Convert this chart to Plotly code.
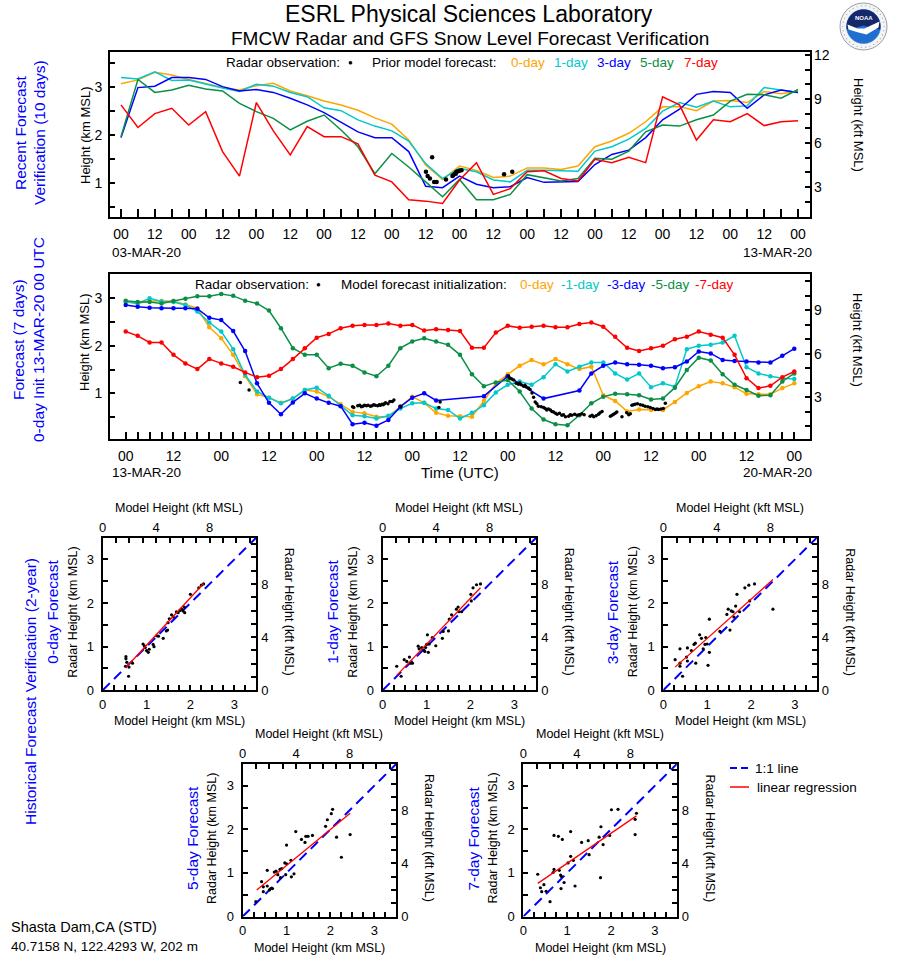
import math
import plotly.graph_objects as go

W, H = 898, 956
KFT = 3.28084


def PX(x):
    return x / W


def PY(y):
    return 1 - y / H


# ------------------------------------------------------------------ data
# Recent forecast verification (10 days), 6-hourly, hours since 03-MAR-20 00 UTC
top_hours = list(range(0, 241, 6))
top_0day = [3.06, 3.14, 3.30, 3.24, 3.15, 3.07, 2.98, 2.93, 3.02, 3.07,
            2.91, 2.81, 2.70, 2.62, 2.51, 2.35, 2.22, 1.89, 1.37, 1.07,
            1.35, 1.26, 1.11, 1.14, 1.31, 1.31, 1.28, 1.35, 1.75, 1.87,
            2.03, 2.27, 2.58, 2.58, 2.50, 2.70, 2.71, 2.67, 2.90, 2.85, 2.91]
top_1day = [3.19, 3.16, 3.31, 3.13, 3.14, 3.05, 2.97, 2.90, 3.05, 3.01,
            2.88, 2.79, 2.56, 2.50, 2.31, 2.18, 2.08, 1.87, 1.40, 1.09,
            1.30, 1.23, 1.06, 1.02, 1.26, 1.26, 1.25, 1.24, 1.66, 1.75,
            1.91, 2.13, 2.49, 2.67, 2.57, 2.70, 2.58, 2.60, 2.98, 2.93, 2.88]
top_3day = [1.94, 2.98, 3.01, 3.19, 3.19, 3.15, 3.00, 2.91, 2.94, 2.88,
            2.76, 2.62, 2.46, 2.26, 2.06, 1.94, 1.94, 1.65, 0.93, 0.90,
            1.14, 0.97, 0.90, 0.92, 1.11, 1.01, 1.02, 1.03, 1.38, 1.59,
            1.68, 1.94, 2.31, 2.53, 2.84, 2.90, 2.88, 2.55, 2.83, 2.93, 2.88]
top_5day = [1.96, 3.15, 2.88, 2.93, 3.03, 2.95, 2.91, 2.65, 2.48, 2.34,
            2.10, 2.28, 2.41, 2.10, 1.75, 1.19, 1.61, 1.33, 1.02, 0.71,
            1.07, 0.65, 0.65, 0.76, 1.17, 1.10, 1.04, 1.09, 1.51, 1.49,
            1.66, 2.06, 2.20, 2.18, 2.31, 2.41, 2.70, 2.84, 2.83, 2.76, 2.94]
top_7day = [2.62, 2.15, 2.44, 2.55, 2.20, 2.48, 1.65, 1.14, 2.67, 2.08,
            1.58, 2.17, 1.96, 1.96, 1.81, 1.16, 1.02, 0.65, 0.62, 0.57,
            1.06, 1.42, 0.76, 0.88, 1.23, 1.25, 1.09, 1.04, 1.49, 1.42,
            1.53, 1.42, 2.79, 2.62, 1.89, 2.31, 2.27, 2.44, 2.19, 2.27, 2.29]
obs_top_hours = [108.1, 108.7, 109.5, 110.3, 111.0, 111.9, 115.2, 117.5, 117.8,
                 118.3, 118.7, 118.9, 119.5, 119.9, 120.7, 135.8, 138.7]
obs_top_km = [1.23, 1.14, 1.09, 1.53, 1.02, 1.02, 1.07, 1.14, 1.16,
              1.19, 1.19, 1.23, 1.24, 1.25, 1.26, 1.18, 1.23]
top_ticktext = ["00", "12"] * 10 + ["00"]

# 7-day forecast initialised 13-MAR-20 00 UTC, 3-hourly
mid_hours = list(range(0, 169, 3))
mid_0day = [2.92, 2.89, 2.94, 2.94, 2.94, 2.87, 2.79, 2.39, 2.16, 1.81,
            1.36, 0.98, 0.91, 0.80, 0.89, 1.07, 1.04, 0.93, 0.77, 0.61,
            0.58, 0.51, 0.51, 0.73, 0.93, 0.80, 0.59, 0.53, 0.52,
            0.51, 0.84, 1.21, 1.40, 1.58, 1.70, 1.61, 1.72, 1.61, 1.51,
            1.56, 0.96, 0.84, 0.62, 0.66, 0.65, 0.65, 0.82, 1.01, 1.15,
            1.25, 1.21, 1.13, 0.99, 0.98, 0.98, 1.11, 1.21]
mid_1day = [2.93, 2.89, 3.00, 2.93, 2.92, 2.86, 2.72, 2.49, 2.30, 1.93,
            1.39, 1.04, 0.91, 0.79, 0.89, 1.07, 1.12, 0.95, 0.74, 0.54,
            0.52, 0.47, 0.53, 0.68, 0.79, 0.80, 0.68, 0.65, 0.47,
            0.59, 0.75, 1.02, 1.18, 1.25, 1.18, 1.34, 1.61, 1.46, 1.56,
            1.65, 1.65, 1.42, 1.29, 1.42, 1.13, 1.21, 1.14, 1.93, 2.00,
            2.02, 2.07, 2.21, 1.55, 1.42, 1.36, 1.32, 1.30]
mid_3day = [2.86, 2.82, 2.80, 2.79, 2.79, 2.79, 2.78, 2.59, 2.54, 2.31,
            1.89, 1.21, 0.80, 0.56, 0.81, 1.00, 0.89, 0.80, 0.73, 0.35,
            0.38, 0.32, 0.44, 0.72, 0.91, 1.00, 0.85, None, None,
            None, 0.94, None, 1.36, None, None, 0.89, None, None, 1.06,
            1.42, 1.58, 1.65, 1.61, 1.60, 1.58, 1.53, 1.55, 1.67, 1.88,
            1.84, 1.70, 1.68, 1.67, 1.65, 1.65, 1.79, 1.94]
mid_5day = [2.95, 2.92, 2.92, 2.89, 2.94, 2.99, 3.04, 3.04, 3.09, 3.05,
            2.95, 2.89, 2.74, 2.37, 1.95, 1.81, 1.81, 1.53, 1.62, 1.58,
            1.44, 1.36, 1.58, 1.95, 2.09, 2.16, 2.09, 2.02, 1.81,
            1.40, 1.15, 1.23, 1.28, 1.04, 0.68, 0.45, 0.35, 0.33, 0.54,
            0.79, 0.93, 0.99, 0.98, 0.96, 0.87, 0.89, 1.12, 1.49, 1.75,
            1.69, 1.40, 1.18, 1.07, 0.95, 0.96, 1.25, 1.42]
mid_7day = [2.30, 2.21, 2.07, 2.07, 1.81, 1.63, 1.51, 1.72, 1.63, 1.56,
            1.44, 1.34, 1.37, 1.51, 1.72, 1.95, 2.17, 2.25, 2.37, 2.42,
            2.44, 2.44, 2.47, 2.42, 2.44, 2.32, 2.35, 2.33, 2.31,
            1.96, 1.96, 2.28, 2.42, 2.38, 2.40, 2.42, 2.39, 2.39, 2.46,
            2.49, 2.40, 2.19, 1.96, 1.89, 1.95, 2.00, 2.14, 2.19, 2.30,
            2.23, 2.17, 1.81, 1.32, 1.11, 1.16, 1.34, 1.46]
obs_mid_hours = [28.8, 31.0, 57.0, 57.3, 58.3, 58.8, 59.2, 59.6, 60.0, 60.5, 60.9, 61.5, 61.9,
                 62.3, 62.7, 63.3, 63.7, 64.0, 64.4, 64.7, 65.0, 65.3, 65.9, 66.4, 67.0, 67.4,
                 69.1, 78.7, 79.0,
                 96.2, 96.6, 97.0, 97.5, 98.1, 98.7, 99.0, 99.4, 100.0, 100.3, 100.6, 101.2, 101.6,
                 102.1, 102.5, 102.9, 103.3, 103.7, 104.4, 105.0, 105.4, 105.8, 106.2, 106.7, 107.1,
                 107.5, 108.0, 108.4, 109.0, 109.6, 110.0, 110.5, 111.3, 111.7, 112.1, 112.8, 113.4,
                 114.0, 114.6, 115.2, 116.7, 117.2, 117.6, 118.2, 118.8, 119.2, 119.7, 121.8, 122.2,
                 122.6, 123.0, 123.4, 124.7, 125.9, 126.4, 126.8, 127.2, 127.6, 128.0, 128.6, 129.3,
                 129.9, 130.5, 131.2, 131.8, 132.5, 133.1, 133.5, 133.9, 134.5, 135.1, 135.6]
obs_mid_km = [1.23, 1.07, 0.72, 0.70, 0.74, 0.75, 0.72, 0.73, 0.75, 0.74, 0.75, 0.73, 0.74,
              0.76, 0.75, 0.74, 0.76, 0.75, 0.77, 0.76, 0.78, 0.80, 0.78, 0.83, 0.83, 0.86,
              0.72, 0.70, 0.82,
              1.36, 1.32, 1.30, 1.28, 1.21, 1.19, 1.22, 1.18, 1.15, 1.17, 1.14, 1.11, 1.08,
              1.01, 0.92, 0.82, 0.78, 0.73, 0.72, 0.70, 0.68, 0.65, 0.67, 0.65, 0.62,
              0.61, 0.58, 0.56, 0.58, 0.54, 0.55, 0.51, 0.52, 0.55, 0.54, 0.56, 0.54,
              0.55, 0.57, 0.55, 0.52, 0.54, 0.51, 0.53, 0.56, 0.59, 0.62, 0.52, 0.54,
              0.56, 0.58, 0.61, 0.51, 0.59, 0.55, 0.57, 0.75, 0.76, 0.77, 0.78, 0.76,
              0.75, 0.73, 0.72, 0.70, 0.68, 0.66, 0.67, 0.66, 0.67, 0.68, 0.79]
mid_ticktext = ["00", "12"] * 7 + ["00"]

# Historical verification scatter (model km, radar km) + regression end points
p0_model = [0.53, 0.53, 0.55, 0.52, 0.60, 0.68, 0.59, 0.95, 0.92, 0.97, 1.00, 1.04, 1.06, 1.15, 1.17,
            1.23, 1.27, 1.38, 1.45, 1.48, 1.49, 1.52, 1.57, 1.61, 1.68, 1.72, 1.76, 1.80, 1.83, 1.86,
            1.87, 2.00, 2.19, 2.25, 2.30]
p0_radar = [0.77, 0.72, 0.64, 0.55, 0.53, 0.62, 0.32, 1.02, 1.06, 0.98, 0.91, 0.87, 0.94, 1.05, 1.00,
            1.25, 1.24, 1.19, 1.36, 1.38, 1.55, 1.64, 1.73, 1.68, 1.80, 1.78, 1.83, 1.86, 1.82, 1.91,
            1.78, 2.20, 2.35, 2.41, 2.44]
reg0_x, reg0_y = [0.52, 2.30], [0.51, 2.45]

p1_model = [0.32, 0.42, 0.49, 0.55, 0.61, 0.64, 0.68, 0.81, 0.83, 0.89, 0.94, 0.96, 0.98, 1.00, 1.02,
            1.04, 1.06, 1.13, 1.21, 1.36, 1.38, 1.50, 1.52, 1.57, 1.68, 1.72, 1.74, 1.80, 2.01, 2.02,
            2.06, 2.14, 2.23]
p1_radar = [0.55, 0.32, 0.70, 0.66, 0.76, 0.62, 0.62, 1.01, 0.95, 0.98, 0.92, 0.89, 0.98, 1.05, 1.27,
            0.87, 1.06, 1.21, 1.02, 1.19, 1.35, 1.36, 1.63, 1.73, 1.86, 1.91, 1.80, 1.80, 2.20, 2.05,
            2.35, 2.42, 2.44]
reg1_x, reg1_y = [0.32, 2.23], [0.34, 2.35]

p2_model = [0.27, 0.38, 0.38, 0.38, 0.44, 0.53, 0.55, 0.55, 0.64, 0.70, 0.73, 0.74, 0.83, 0.87, 0.91,
            0.95, 0.97, 1.00, 1.02, 1.05, 1.05, 1.29, 1.45, 1.48, 1.52, 1.55, 1.59, 1.61, 1.65, 1.68,
            1.74, 1.86, 1.95, 1.97, 2.08, 2.50]
p2_radar = [0.70, 0.95, 0.55, 0.62, 0.32, 0.76, 0.97, 0.67, 0.91, 1.05, 1.08, 0.62, 1.27, 1.19, 0.95,
            1.05, 1.21, 1.06, 0.57, 0.87, 1.63, 1.35, 1.74, 1.86, 1.38, 1.82, 1.80, 1.68, 1.93, 2.20,
            1.80, 2.35, 2.41, 2.05, 2.44, 1.86]
reg2_x, reg2_y = [0.27, 2.50], [0.53, 2.54]

p3_model = [0.30, 0.43, 0.47, 0.47, 0.56, 0.56, 0.61, 0.64, 0.68, 0.72, 0.76, 0.80, 0.85, 0.86, 0.89,
            0.96, 0.98, 1.00, 1.00, 1.10, 1.11, 1.17, 1.21, 1.34, 1.42, 1.44, 1.49, 1.59, 1.89, 1.93,
            2.02, 2.05, 2.14, 2.25, 2.45]
p3_radar = [0.34, 0.80, 0.68, 0.57, 1.06, 0.70, 0.61, 0.64, 0.64, 1.02, 1.04, 0.96, 1.08, 0.89, 1.10,
            1.23, 0.96, 1.21, 1.64, 1.29, 0.91, 0.98, 1.95, 1.77, 1.70, 1.84, 1.84, 1.86, 2.07, 2.22,
            2.36, 2.46, 1.82, 1.36, 1.88]
reg3_x, reg3_y = [0.32, 2.45], [0.61, 2.37]

p4_model = [0.33, 0.39, 0.42, 0.47, 0.52, 0.61, 0.68, 0.70, 0.70, 0.80, 0.82, 0.85, 0.86, 0.87, 0.89,
            0.93, 1.02, 1.08, 1.08, 1.14, 1.18, 1.33, 1.48, 1.50, 1.73, 1.77, 1.76, 1.82, 1.97, 2.01,
            2.16, 2.55, 2.58, 2.55]
p4_radar = [0.97, 0.66, 0.57, 0.73, 0.58, 0.34, 1.01, 1.08, 1.86, 1.84, 1.06, 0.95, 0.64, 0.92, 1.77,
            0.78, 1.23, 1.95, 1.38, 1.29, 0.70, 1.70, 1.74, 1.42, 1.82, 2.06, 0.89, 1.65, 1.86, 2.45,
            2.46, 2.23, 2.37, 1.88]
reg4_x, reg4_y = [0.33, 2.58], [0.76, 2.31]

scatter_titles = ["0-day Forecast", "1-day Forecast", "3-day Forecast", "5-day Forecast", "7-day Forecast"]
one_to_one = [0, 3.5]

# ------------------------------------------------------------------ style
ORANGE = "#ffa500"
CYAN = "#00c8cc"
BLUE = "#0000ff"
GREEN = "#0b8f45"
RED = "#ff0000"
FONT = "Liberation Sans, Arial, Helvetica, sans-serif"

fig = go.Figure()
layout_axes = {}


def axis(**kw):
    d = dict(showgrid=False, zeroline=False, ticks="inside", tickcolor="black", tickwidth=1.5,
             ticklen=5, tickfont=dict(size=14, color="black", family=FONT), showline=False,
             automargin=False, ticklabelstandoff=3)
    d.update(kw)
    return d


def minor(vals, ln):
    return dict(tickvals=vals, ticks="inside", ticklen=ln, tickwidth=1.5, tickcolor="black", showgrid=False)


FRAME = dict(showline=True, mirror=True, linecolor="black", linewidth=2)
SFONT = dict(size=13, color="black", family=FONT)

# ---- top time series
TX0, TX1 = 110, 810
ty0, ty1 = 52, 217
layout_axes["xaxis"] = axis(domain=[PX(TX0), PX(TX1)], anchor="y", range=[-3.9, 244.25],
                            tickmode="array", tickvals=list(range(0, 241, 12)), ticktext=top_ticktext,
                            ticklen=8, minor=minor(list(range(6, 241, 12)), 8), **FRAME)
layout_axes["yaxis"] = axis(domain=[PY(ty1), PY(ty0)], anchor="x", range=[0.29, 3.72],
                            tickmode="array", tickvals=[1, 2, 3], minor=minor([0.5, 1.5, 2.5, 3.5], 5), **FRAME)
layout_axes["yaxis2"] = axis(overlaying="y", anchor="x", side="right", range=[0.29 * KFT, 3.72 * KFT],
                             tickmode="array", tickvals=[3, 6, 9, 12], minor=minor([1, 2, 4, 5, 7, 8, 10, 11], 5))

for vals, col in [(top_0day, ORANGE), (top_1day, CYAN), (top_3day, BLUE), (top_5day, GREEN), (top_7day, RED)]:
    fig.add_trace(go.Scatter(x=top_hours, y=vals, mode="lines", line=dict(color=col, width=1.5),
                             xaxis="x", yaxis="y", hoverinfo="skip"))
fig.add_trace(go.Scatter(x=obs_top_hours, y=obs_top_km, mode="markers",
                         marker=dict(color="black", size=4.5), xaxis="x", yaxis="y", hoverinfo="skip"))
fig.add_trace(go.Scatter(x=[None], y=[None], xaxis="x", yaxis="y2", hoverinfo="skip"))

# ---- middle time series
my0, my1 = 274, 439
layout_axes["xaxis2"] = axis(domain=[PX(TX0), PX(TX1)], anchor="y3", range=[-3.95, 171.95],
                             tickmode="array", tickvals=list(range(0, 169, 12)), ticktext=mid_ticktext,
                             ticklen=7, minor=minor([h for h in range(3, 169, 3) if h % 12], 7), **FRAME)
layout_axes["yaxis3"] = axis(domain=[PY(my1), PY(my0)], anchor="x2", range=[0.04, 3.51],
                             tickmode="array", tickvals=[1, 2, 3], minor=minor([0.5, 1.5, 2.5], 5), **FRAME)
layout_axes["yaxis4"] = axis(overlaying="y3", anchor="x2", side="right", range=[0.04 * KFT, 3.51 * KFT],
                             tickmode="array", tickvals=[3, 6, 9], minor=minor([1, 2, 4, 5, 7, 8, 10, 11], 5))

for vals, col in [(mid_0day, ORANGE), (mid_1day, CYAN), (mid_3day, BLUE), (mid_5day, GREEN), (mid_7day, RED)]:
    fig.add_trace(go.Scatter(x=mid_hours, y=vals, mode="lines+markers", connectgaps=True,
                             line=dict(color=col, width=1.5), marker=dict(color=col, size=4.5),
                             xaxis="x2", yaxis="y3", hoverinfo="skip"))
fig.add_trace(go.Scatter(x=obs_mid_hours, y=obs_mid_km, mode="markers",
                         marker=dict(color="black", size=3.5), xaxis="x2", yaxis="y3", hoverinfo="skip"))
fig.add_trace(go.Scatter(x=[None], y=[None], xaxis="x2", yaxis="y4", hoverinfo="skip"))

# ---- scatter panels
frames = [(102.7, 256.2, 537.7, 690.2), (382.7, 536.2, 537.7, 690.2), (663.3, 816.8, 537.7, 690.2),
          (242.7, 396.2, 764.0, 916.5), (523.3, 676.8, 764.0, 916.5)]
panels = [(p0_model, p0_radar, reg0_x, reg0_y), (p1_model, p1_radar, reg1_x, reg1_y),
          (p2_model, p2_radar, reg2_x, reg2_y), (p3_model, p3_radar, reg3_x, reg3_y),
          (p4_model, p4_radar, reg4_x, reg4_y)]
kft_minor = [1, 2, 3, 5, 6, 7, 9, 10, 11]
km_minor_x = [0.25, 0.5, 0.75, 1.25, 1.5, 1.75, 2.25, 2.5, 2.75, 3.25]
annotations = []


def ann(text, x, y, size, color="black", angle=0, xanchor="center", yanchor="middle"):
    annotations.append(dict(text=text, x=PX(x), y=PY(y), xref="paper", yref="paper", showarrow=False,
                            font=dict(size=size, color=color, family=FONT), textangle=angle,
                            xanchor=xanchor, yanchor=yanchor))


for k, ((fx0, fx1, fy0, fy1), (mx, ry, rgx, rgy)) in enumerate(zip(frames, panels)):
    nx, ny = 3 + 2 * k, 5 + 2 * k
    layout_axes[f"xaxis{nx}"] = axis(domain=[PX(fx0), PX(fx1)], anchor=f"y{ny}", range=[0, 3.5],
                                     tickmode="array", tickvals=[0, 1, 2, 3], minor=minor(km_minor_x, 5),
                                     tickfont=SFONT, ticklabelstandoff=1, **FRAME)
    layout_axes[f"xaxis{nx + 1}"] = axis(overlaying=f"x{nx}", anchor=f"y{ny}", side="top", range=[0, 3.5 * KFT],
                                         tickmode="array", tickvals=[0, 4, 8], minor=minor(kft_minor, 5),
                                         tickfont=SFONT, ticklabelstandoff=2)
    layout_axes[f"yaxis{ny}"] = axis(domain=[PY(fy1), PY(fy0)], anchor=f"x{nx}", range=[0, 3.5],
                                     tickmode="array", tickvals=[0, 1, 2, 3], minor=minor([0.5, 1.5, 2.5], 5),
                                     tickfont=SFONT, ticklabelstandoff=4, **FRAME)
    layout_axes[f"yaxis{ny + 1}"] = axis(overlaying=f"y{ny}", anchor=f"x{nx}", side="right", range=[0, 3.5 * KFT],
                                         tickmode="array", tickvals=[0, 4, 8], minor=minor(kft_minor, 5),
                                         tickfont=SFONT, ticklabelstandoff=4)
    fig.add_trace(go.Scatter(x=one_to_one, y=one_to_one, mode="lines",
                             line=dict(color=BLUE, width=2, dash="10px,6px"),
                             xaxis=f"x{nx}", yaxis=f"y{ny}", hoverinfo="skip"))
    fig.add_trace(go.Scatter(x=mx, y=ry, mode="markers", marker=dict(color="black", size=3.2),
                             xaxis=f"x{nx}", yaxis=f"y{ny}", hoverinfo="skip"))
    fig.add_trace(go.Scatter(x=rgx, y=rgy, mode="lines", line=dict(color=RED, width=1.3),
                             xaxis=f"x{nx}", yaxis=f"y{ny}", hoverinfo="skip"))
    fig.add_trace(go.Scatter(x=[None], y=[None], xaxis=f"x{nx + 1}", yaxis=f"y{ny + 1}", hoverinfo="skip"))
    cxm = (fx0 + fx1) / 2
    cym = (fy0 + fy1) / 2 - 2
    ann("Model Height (kft MSL)", cxm, fy0 - 30, 12.5)
    ann("Model Height (km MSL)", cxm, fy1 + 31, 12.5)
    ann("Radar Height (km MSL)", fx0 - 30, cym, 12.5, angle=-90)
    ann("Radar Height (kft MSL)", fx1 + 33, cym, 12.5, angle=90)
    ann(scatter_titles[k], fx0 - 50, cym, 15.5, color=BLUE, angle=-90)

# ---- texts
ann("ESRL Physical Sciences Laboratory", 469, 14, 23)
ann("FMCW Radar and GFS Snow Level Forecast Verification", 470, 38, 19)

ann("Recent Forecast", 21, 133, 15.5, color=BLUE, angle=-90)
ann("Verification (10 days)", 40, 133, 15.5, color=BLUE, angle=-90)
ann("Height (km MSL)", 85, 135, 13, angle=-90)
ann("Height (kft MSL)", 858, 125, 13, angle=90)
ann("03-MAR-20", 110, 252, 13.5, xanchor="left")
ann("13-MAR-20", 814, 252, 13.5, xanchor="right")

ann("Radar observation:", 224, 63, 13.5, xanchor="left")
ann("●", 350, 63, 8)
ann("Prior model forecast:", 370, 63, 13.5, xanchor="left")
for txt, xx, col in [("0-day", 509, ORANGE), ("1-day", 552, CYAN), ("3-day", 595, BLUE),
                     ("5-day", 638, GREEN), ("7-day", 682, RED)]:
    ann(txt, xx, 63, 13.5, color=col, xanchor="left")

ann("Forecast (7 days)", 18, 340, 15.5, color=BLUE, angle=-90)
ann("0-day Init 13-MAR-20 00 UTC", 38, 340, 15.5, color=BLUE, angle=-90)
ann("Height (km MSL)", 85, 342, 13, angle=-90)
ann("Height (kft MSL)", 858, 340, 13, angle=90)
ann("13-MAR-20", 110, 472, 13.5, xanchor="left")
ann("20-MAR-20", 814, 472, 13.5, xanchor="right")
ann("Time (UTC)", 460, 472, 15)

ann("Radar observation:", 193, 285, 13.5, xanchor="left")
ann("●", 318, 285, 8)
ann("Model forecast initialization:", 339, 285, 13.5, xanchor="left")
for txt, xx, col in [("0-day", 518, ORANGE), ("-1-day", 559, CYAN), ("-3-day", 605, BLUE),
                     ("-5-day", 649, GREEN), ("-7-day", 693, RED)]:
    ann(txt, xx, 285, 13.5, color=col, xanchor="left")

ann("Historical Forecast Verification (2-year)", 30, 692, 15.5, color=BLUE, angle=-90)

ann("1:1 line", 753, 768, 13.5, xanchor="left")
ann("linear regression", 755, 787, 13.5, xanchor="left")

ann("Shasta Dam,CA (STD)", 9, 927, 14.5, xanchor="left")
ann("40.7158 N, 122.4293 W, 202 m", 9, 946, 13.5, xanchor="left")

# ---- shapes: legend samples and NOAA emblem
shapes = [
    dict(type="line", xref="paper", yref="paper", x0=PX(730), x1=PX(749), y0=PY(768), y1=PY(768),
         line=dict(color=BLUE, width=2, dash="7px,4px")),
    dict(type="line", xref="paper", yref="paper", x0=PX(730), x1=PX(749), y0=PY(787), y1=PY(787),
         line=dict(color=RED, width=1.5)),
]


def poly(pts):
    return "M " + " L ".join(f"{PX(x):.5f},{PY(y):.5f}" for x, y in pts) + " Z"


cx, cy, R, r = 863.5, 26.5, 23.5, 17.0
shapes.append(dict(type="circle", xref="paper", yref="paper", x0=PX(cx - R), x1=PX(cx + R),
                   y0=PY(cy + R), y1=PY(cy - R), fillcolor="#f4f4f6", line=dict(color="#7f8590", width=0.8)))
shapes.append(dict(type="circle", xref="paper", yref="paper", x0=PX(cx - r), x1=PX(cx + r),
                   y0=PY(cy + r), y1=PY(cy - r), fillcolor="#1f6fd1", line=dict(color="#1f6fd1", width=0.5)))
cap = [(cx + r * math.cos(math.radians(a)), cy - r * math.sin(math.radians(a))) for a in range(190, -11, -10)]
cap += [(cx + 6, cy + 1), (cx, cy - 1), (cx - 7, cy + 1)]
shapes.append(dict(type="path", xref="paper", yref="paper", path=poly(cap), fillcolor="#14286a",
                   line=dict(width=0)))
gull = [(cx - 16, cy - 2), (cx - 6, cy + 2), (cx + 1, cy + 2), (cx + 16, cy - 5), (cx + 15, cy + 1),
        (cx + 3, cy + 8), (cx - 5, cy + 6), (cx - 15, cy + 3)]
shapes.append(dict(type="path", xref="paper", yref="paper", path=poly(gull), fillcolor="white",
                   line=dict(width=0)))
ann("<b>NOAA</b>", cx, cy - 9, 6, color="white")
for a in range(0, 360, 12):
    rr = (R + r) / 2 + 0.5
    shapes.append(dict(type="circle", xref="paper", yref="paper",
                       x0=PX(cx + rr * math.cos(math.radians(a)) - 0.6),
                       x1=PX(cx + rr * math.cos(math.radians(a)) + 0.6),
                       y0=PY(cy - rr * math.sin(math.radians(a)) + 0.6),
                       y1=PY(cy - rr * math.sin(math.radians(a)) - 0.6),
                       fillcolor="#9aa0aa", line=dict(width=0)))

fig.update_layout(
    template="none",
    width=W, height=H,
    margin=dict(l=0, r=0, t=0, b=0),
    paper_bgcolor="white", plot_bgcolor="white",
    font=dict(family=FONT, color="black", size=13),
    showlegend=False,
    annotations=annotations,
    shapes=shapes,
    **layout_axes,
)

fig.write_html("out.html", config={"displayModeBar": False},
               post_script="document.body.style.margin='0px';")
